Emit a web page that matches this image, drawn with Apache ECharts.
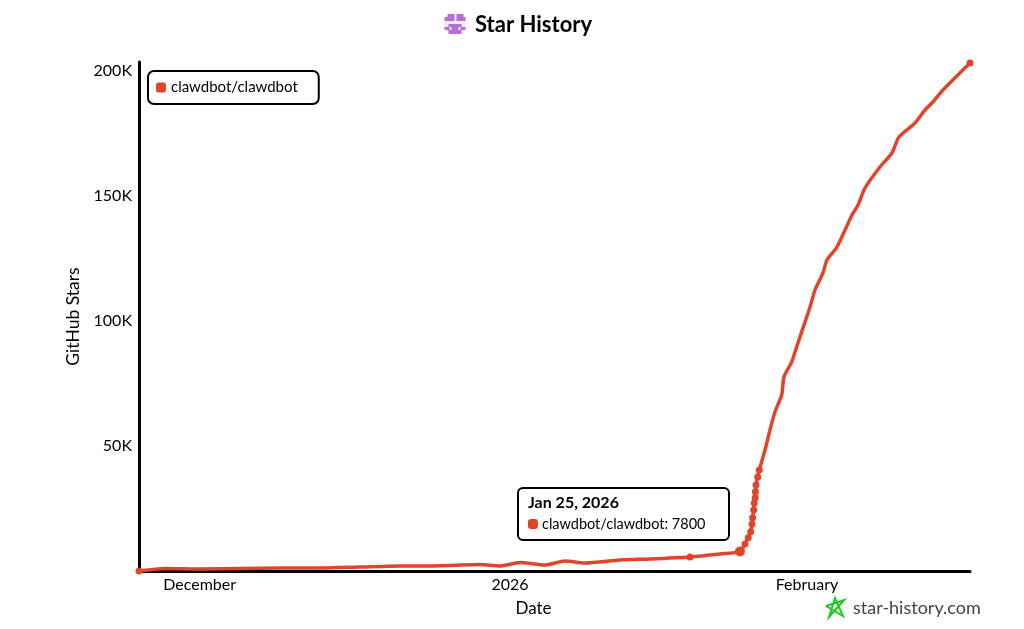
<!DOCTYPE html>
<html><head><meta charset="utf-8">
<style>html,body{margin:0;padding:0;background:#fff}#c{width:1024px;height:629px}</style>
<script src="https://cdn.jsdelivr.net/npm/echarts@6/dist/echarts.min.js"></script>
</head><body><div id="c"></div>
<script>
const FONT = 'Lato';
const seriesName = 'clawdbot/clawdbot';
// days since 1 Jan 2026
const dayOffsets = [-38.73,-36.01,-32.36,-28.18,-24.01,-19.83,-15.66,-11.48,-8.87,-6.26,-3.13,-1.04,1.04,3.65,5.74,7.83,11.48,14.61,18.79,21.92,24,24.53,24.87,25.13,25.26,25.33,25.44,25.5,25.6,25.62,25.68,25.86,26.02,26.62,27.14,27.66,28.36,28.6,29.41,29.75,30.27,31.32,31.84,32.67,33.09,34.13,35.7,36.33,37.06,38.62,39.87,40.61,42.28,43.32,44.15,45.2,48.02];
const stars = [0,1000,800,1000,1200,1200,1600,2000,2000,2200,2600,2000,3400,2400,4000,3200,4400,4800,5600,6800,7800,10800,13300,15700,18800,21300,24400,27200,29300,31700,34400,37600,40400,48400,56400,63600,70400,77600,83600,87600,93600,105600,112400,119200,124400,129600,142400,146400,153200,161600,167200,173600,179200,184400,187600,192400,203200];
const markerDays = [-38.73,18.79,24.53,24.87,25.13,25.26,25.33,25.44,25.5,25.6,25.62,25.68,25.86,26.02,48.02];
const activeDay = 24;
const xTickDays = [-32.4,0,31];
const xTickLabels = ['December','2026','February'];
const yTicks = [50000,100000,150000,200000];
const yTickLabels = ['50K','100K','150K','200K'];
const tooltipTitle = 'Jan 25, 2026';

const data = dayOffsets.map((d,i)=>[d,stars[i]]);
const chart = echarts.init(document.getElementById('c'),null,{renderer:'canvas'});
const red = '#e0452a';
const px = (x,y,w,h)=>({type:'rect',shape:{x,y,width:w,height:h},style:{fill:'#b56fd6'}});
chart.setOption({
  animation:false,
  backgroundColor:'#fff',
  textStyle:{fontFamily:FONT},
  title:{text:'Star History',left:470,top:9,textStyle:{fontFamily:FONT,fontSize:22,fontWeight:'bold',color:'#000'}},
  legend:{left:148,top:71,orient:'vertical',padding:[9,21,9,8],backgroundColor:'#fff',borderColor:'#000',borderWidth:2,borderRadius:6,
    itemWidth:10,itemHeight:10,icon:'roundRect',textStyle:{fontFamily:FONT,fontSize:15,color:'#000'},data:[seriesName]},
  grid:{left:139,right:54,top:62,bottom:58},
  tooltip:{trigger:'item',alwaysShowContent:true,transitionDuration:0,position:[517,487],padding:0,borderWidth:0,backgroundColor:'transparent',shadowBlur:0,extraCssText:'box-shadow:none;',
    formatter:()=>`<div style="box-sizing:border-box;width:213px;height:54px;border:2px solid #000;border-radius:6px;background:#fff;padding:2px 9px;font-family:${FONT};color:#000;line-height:22px;font-size:14.5px"><div style="font-weight:bold;font-size:16px">${tooltipTitle}</div><div><span style="display:inline-block;width:10px;height:10px;border-radius:3px;background:${red};margin-right:4px"></span>${seriesName}: ${stars[dayOffsets.indexOf(activeDay)]}</div></div>`},
  xAxis:{type:'value',min:dayOffsets[0],max:dayOffsets[dayOffsets.length-1],
    axisLine:{show:true,onZero:false,lineStyle:{color:'#000',width:3,cap:'round'}},axisTick:{show:false},splitLine:{show:false},
    axisLabel:{customValues:xTickDays,color:'#000',fontSize:16,fontFamily:FONT,margin:6,hideOverlap:false,
      formatter:v=>xTickLabels[xTickDays.indexOf(v)]||''},
    name:'Date',nameLocation:'middle',nameGap:29,nameTextStyle:{color:'#000',fontSize:17,fontFamily:FONT,padding:[0,42,0,0]}},
  yAxis:{type:'value',min:0,max:203600,
    axisLine:{show:true,onZero:false,lineStyle:{color:'#000',width:3,cap:'round'}},axisTick:{show:false},splitLine:{show:false},
    axisLabel:{customValues:yTicks,color:'#000',fontSize:16,fontFamily:FONT,margin:7,
      formatter:v=>yTickLabels[yTicks.indexOf(v)]||''},
    name:'GitHub Stars',nameLocation:'middle',nameGap:57,nameTextStyle:{color:'#000',fontSize:17.5,fontFamily:FONT}},
  series:[{name:seriesName,type:'line',data,showSymbol:true,showAllSymbol:true,symbol:'circle',clip:false,smooth:0.25,
    symbolSize:(v,p)=>{const d=dayOffsets[p.dataIndex];return d===activeDay?10:(markerDays.includes(d)?7:0);},
    lineStyle:{color:red,width:3.5,cap:'round',join:'round'},itemStyle:{color:red},emphasis:{disabled:true}}],
  graphic:[
    {type:'group',left:444,top:13,children:[
      {type:'circle',shape:{cx:10.5,cy:10,r:11},style:{fill:'#eeeeee'}},
      px(3,0,7,3),px(12,0,7,3),px(0,3,10,4),px(12,3,9,4),
      px(4,10,13,3),px(0,13,5,3),px(7,13,7,3),px(16,13,5,3),px(4,16,13,4)
    ]},
    {type:'polyline',shape:{points:[[826,606],[844,600],[829,617],[835,598],[843,616],[826,606]]},style:{stroke:'#1fc71f',lineWidth:2,fill:null}},
    {type:'text',left:853,top:599,style:{text:'star-history.com',fill:'#444',font:'18px '+FONT}}
  ]
});
chart.dispatchAction({type:'showTip',seriesIndex:0,dataIndex:dayOffsets.indexOf(activeDay)});
</script></body></html>
